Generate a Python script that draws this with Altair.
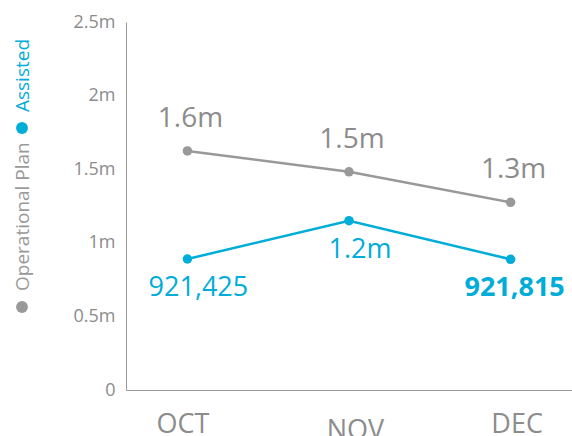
import altair as alt
import pandas as pd

months = ["OCT", "NOV", "DEC"]
plan_values = [1624000, 1482000, 1275000]
plan_labels = ["1.6m", "1.5m", "1.3m"]
assisted_values = [890000, 1150000, 888000]
assisted_labels = ["921,425", "1.2m", "921,815"]
assisted_bold = [False, False, True]
series_names = ["Assisted", "Operational Plan"]
y_ticks = [0, 500000, 1000000, 1500000, 2000000, 2500000]

GREY = "#999999"
GREY_TXT = "#8c8c8c"
BLUE = "#00acd8"
FONT = "Open Sans"

plan = pd.DataFrame({"month": months, "value": plan_values, "label": plan_labels})
assisted = pd.DataFrame({"month": months, "value": assisted_values, "label": assisted_labels,
                         "bold": assisted_bold})
legend_df = pd.DataFrame({"series": series_names})

x_enc = alt.X("month:O", sort=months,
              scale=alt.Scale(type="point", padding=0.38),
              axis=alt.Axis(title=None, labelAngle=0, tickSize=0, domainColor=GREY,
                            labelColor=GREY_TXT, labelFontSize=27, labelFont=FONT,
                            labelPadding=alt.condition("datum.value == 'NOV'", alt.value(27), alt.value(21)),
                            labelOffset=alt.condition("datum.value == 'OCT'", alt.value(-5), alt.value(6)),
                            labelBaseline="top"))
y_enc = alt.Y("value:Q", scale=alt.Scale(domain=[0, 2500000]),
              axis=alt.Axis(title=None, values=y_ticks, grid=False, tickSize=0,
                            domainColor=GREY, labelColor=GREY_TXT, labelFontSize=18,
                            labelFont=FONT, labelPadding=11,
                            labelExpr="datum.value == 0 ? '0' : format(datum.value / 1000000, '') + 'm'"))

plan_line = alt.Chart(plan).mark_line(color=GREY, strokeWidth=2.5).encode(x=x_enc, y=y_enc)
plan_pts = alt.Chart(plan).mark_point(filled=True, opacity=1, color=GREY, size=90).encode(x=x_enc, y=y_enc)
plan_txt = alt.Chart(plan).mark_text(color=GREY_TXT, fontSize=28, font=FONT, dy=-32, dx=3).encode(
    x=x_enc, y=y_enc, text="label:N")

as_line = alt.Chart(assisted).mark_line(color=BLUE, strokeWidth=2.5).encode(x=x_enc, y=y_enc)
as_pts = alt.Chart(assisted).mark_point(filled=True, opacity=1, color=BLUE, size=90).encode(x=x_enc, y=y_enc)
as_txt = alt.Chart(assisted).transform_filter("!datum.bold").mark_text(
    color=BLUE, fontSize=27, font=FONT, dy=29, dx=11).encode(x=x_enc, y=y_enc, text="label:N")
as_txt_bold = alt.Chart(assisted).transform_filter("datum.bold").mark_text(
    color=BLUE, fontSize=27, font=FONT, fontWeight="bold", dy=29, dx=4).encode(x=x_enc, y=y_enc, text="label:N")

main = alt.layer(plan_line, as_line, plan_pts, as_pts, plan_txt, as_txt, as_txt_bold).properties(
    width=446, height=368)

leg_y = alt.Y("series:N", sort=series_names, axis=None,
              scale=alt.Scale(type="point", padding=0, range=[106, 285]))
leg_color = alt.Color("series:N", scale=alt.Scale(domain=series_names, range=[BLUE, GREY]), legend=None)
leg_dots = alt.Chart(legend_df).mark_point(filled=True, opacity=1, size=140).encode(
    x=alt.value(22), y=leg_y, color=leg_color)
leg_text = alt.Chart(legend_df).mark_text(angle=270, align="left", baseline="middle",
                                          fontSize=19, font=FONT, dx=16).encode(
    x=alt.value(23), y=leg_y, text="series:N", color=leg_color)
legend = alt.layer(leg_dots, leg_text).properties(width=40, height=368)

chart = alt.hconcat(legend, main, spacing=33).properties(
    padding={"top": 13, "left": 0, "right": 0, "bottom": 0}
).configure_view(stroke=None)

chart.save("out.html", embed_options={"renderer": "svg", "actions": False})
